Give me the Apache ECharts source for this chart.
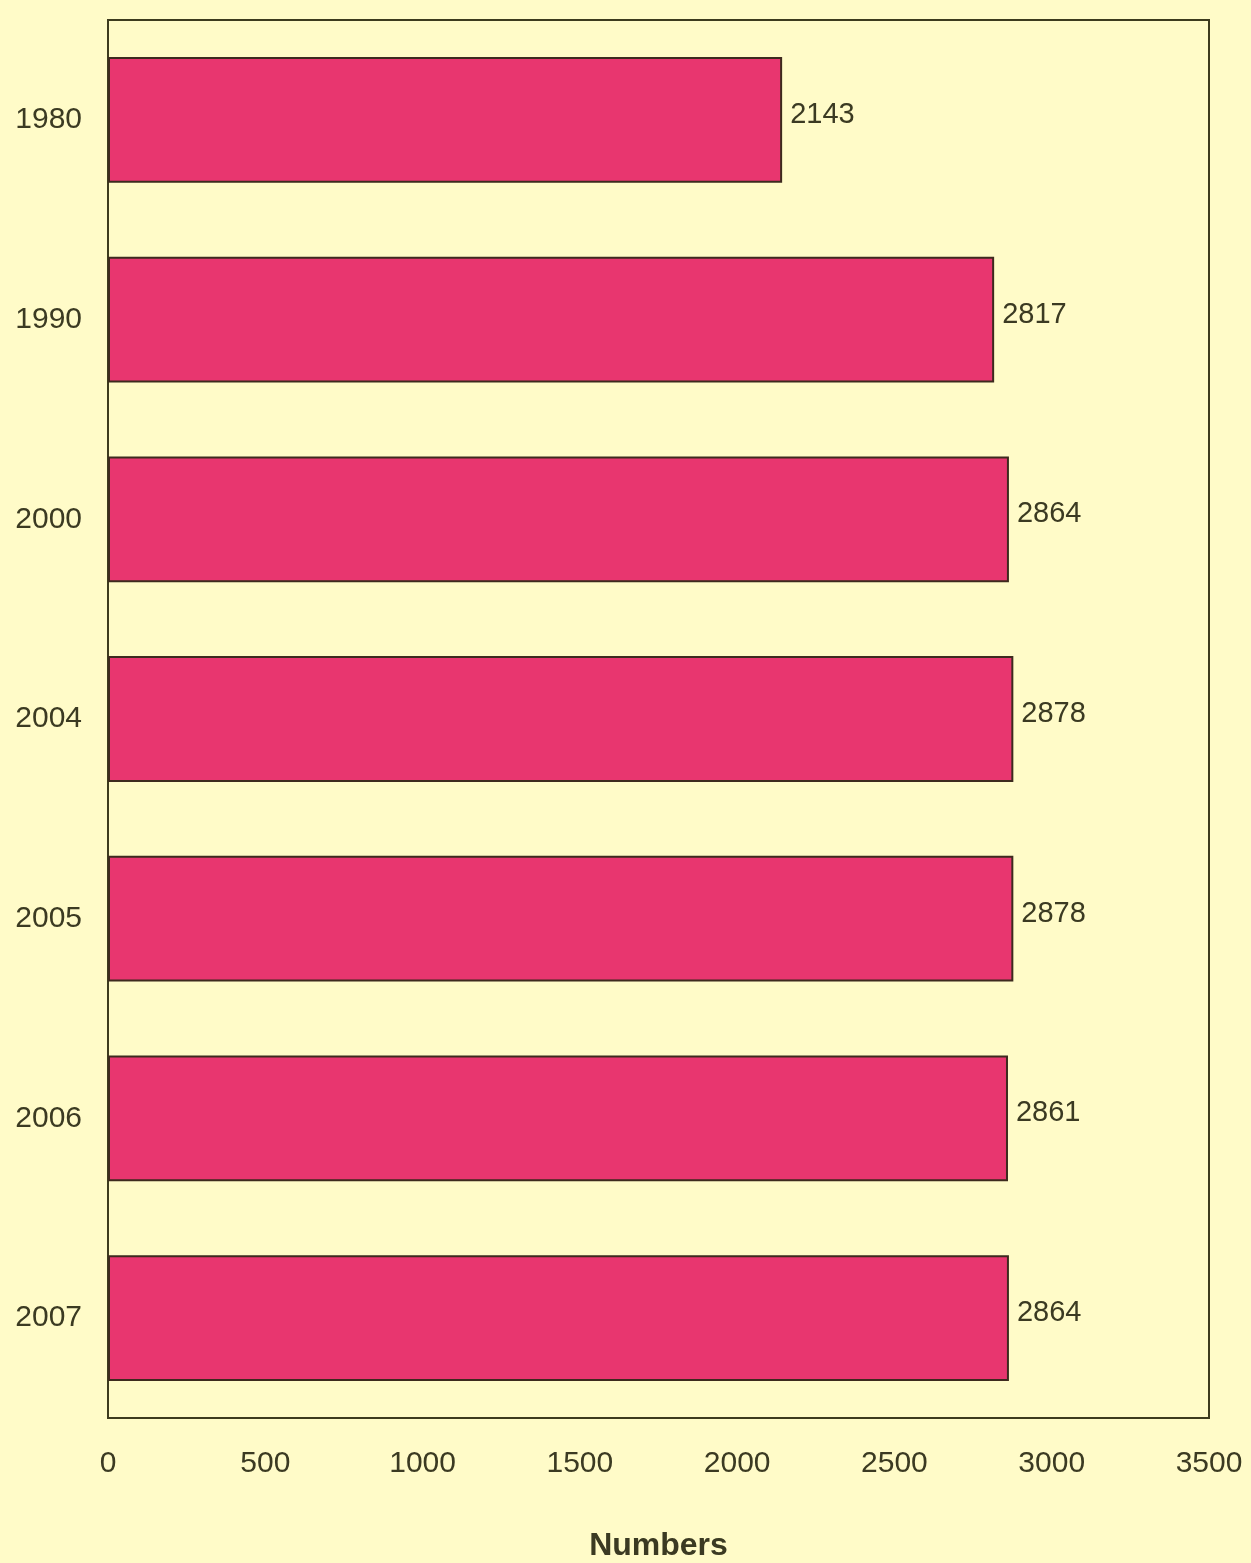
<!DOCTYPE html>
<html><head><meta charset="utf-8">
<script src="https://cdn.jsdelivr.net/npm/echarts@6/dist/echarts.min.js"></script>
<style>html,body{margin:0;padding:0;background:#fffbc8;}#c{width:1251px;height:1563px;}</style>
</head><body><div id="c"></div>
<script>
const years = ['1980','1990','2000','2004','2005','2006','2007'];
const numbers = [2143, 2817, 2864, 2878, 2878, 2861, 2864];
const xTicks = [0, 500, 1000, 1500, 2000, 2500, 3000, 3500];
const axisTitle = 'Numbers';

const chart = echarts.init(document.getElementById('c'));
const txt = '#3b3a22';
chart.setOption({
  backgroundColor: '#fffbc8',
  textStyle: {fontFamily: 'Liberation Sans, Arial, sans-serif'},
  grid: {left: 108, right: 42, top: 20, bottom: 145, show: true, outerBoundsMode: 'none', containLabel: false,
         borderColor: '#3d3b1e', borderWidth: 2, backgroundColor: 'transparent'},
  xAxis: {
    type: 'value', min: xTicks[0], max: xTicks[xTicks.length-1], interval: 500,
    name: axisTitle, nameLocation: 'middle', nameGap: 112,
    nameTextStyle: {fontSize: 32, fontWeight: 'bold', color: txt},
    axisLine: {show: false}, axisTick: {show: false}, splitLine: {show: false},
    axisLabel: {fontSize: 30, color: txt, margin: 31, formatter: v => String(v)}
  },
  yAxis: {
    type: 'category', data: years, inverse: true,
    axisLine: {show: false}, axisTick: {show: false},
    axisLabel: {fontSize: 30, color: txt, margin: 26}
  },
  series: [{
    type: 'bar', data: numbers, barCategoryGap: '37%',
    itemStyle: {color: '#e8366f', borderColor: '#3d2a1e', borderWidth: 2},
    label: {show: true, position: 'right', distance: 8, fontSize: 29, color: txt, offset: [0, -5]}
  }]
});
</script></body></html>
